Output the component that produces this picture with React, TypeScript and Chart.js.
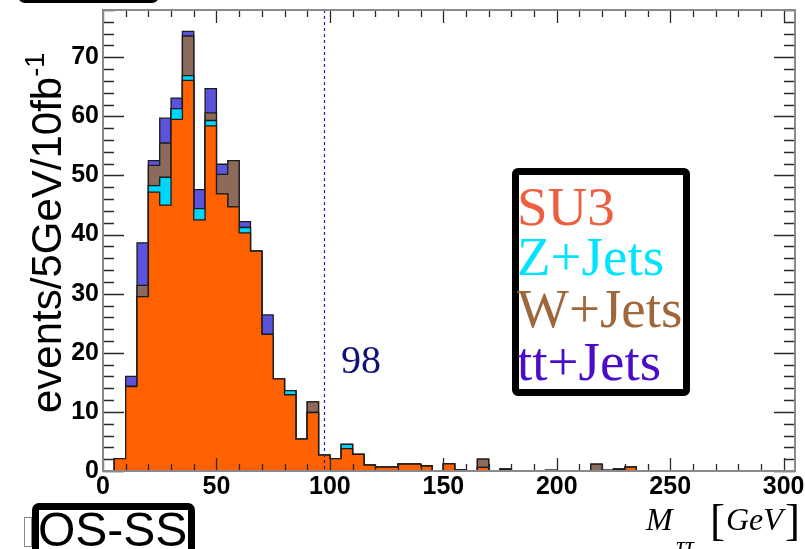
import React, { useEffect, useRef } from "react";
import { Chart, registerables } from "chart.js";

Chart.register(...registerables);

// ---- data (events per 5 GeV bin, bin i covers [5i, 5i+5) GeV) ----
const binWidth = 5;
const su3 = [
  0, 2.1, 14.3, 29.5, 47.2, 45.0, 59.5, 66.1, 42.5, 58.4,
  46.9, 44.7, 40.3, 37.2, 23.1, 15.6, 12.9, 5.4, 9.9, 2.7,
  2.1, 3.8, 2.8, 1.0, 0.65, 0.65, 1.15, 1.15, 0.85, 0,
  1.2, 0.2, 0, 0.6, 0, 0.3, 0, 0, 0, 0.12,
  0, 0, 0, 0, 0.12, 0.3, 0.65,
];
const zJets = [
  0, 0, 0, 0, 1.1, 4.7, 1.8, 0.8, 1.9, 0.9,
  0, 0, 0.9, 0, 0, 0, 0.7, 0, 0, 0,
  0, 0.7, 0, 0, 0, 0, 0, 0, 0, 0,
  0, 0, 0, 0, 0, 0, 0, 0, 0, 0,
  0, 0, 0, 0, 0, 0, 0,
];
const wJets = [
  0, 0, 0, 1.9, 3.4, 5.8, 0, 6.7, 0, 1.3,
  3.3, 7.8, 0, 0, 0, 0, 0, 0, 1.8, 0,
  0, 0, 0, 0, 0, 0, 0, 0, 0, 0,
  0, 0, 0, 1.4, 0, 0, 0, 0, 0, 0,
  0, 0, 0, 1.15, 0, 0, 0,
];
const ttJets = [
  0, 0, 1.7, 7.2, 0.8, 4.2, 1.8, 0.8, 3.2, 4.1,
  1.7, 0, 1.0, 0, 3.3, 0, 0, 0, 0, 0,
  0, 0, 0, 0, 0, 0, 0, 0, 0, 0,
  0, 0, 0, 0, 0, 0, 0, 0, 0, 0,
  0, 0, 0, 0, 0, 0, 0,
];
const seriesNames = ["SU3", "Z+Jets", "W+Jets", "tt+Jets"];
const xTicks = [0, 50, 100, 150, 200, 250, 300];
const yTicks = [0, 10, 20, 30, 40, 50, 60, 70];
const xMin = 0;
const xMax = 305;
const yMin = 0;
const yMax = 78;
const cutValue = 98;

const fillColors = ["#ff6000", "#00d6fa", "#8c6b5c", "#5b53dc"];
const legendColors = ["#ec6040", "#00e4ff", "#9e683c", "#4a0cc6"];
const outline = "#1c1c1c";

function stepPoints(vals: number[]) {
  const pts: { x: number; y: number }[] = [{ x: 0, y: 0 }];
  vals.forEach((v, i) => {
    pts.push({ x: i * binWidth, y: v });
    pts.push({ x: (i + 1) * binWidth, y: v });
  });
  pts.push({ x: vals.length * binWidth, y: 0 });
  return pts;
}

const framePlugin = {
  id: "rootFrame",
  afterDraw(chart: any) {
    const { ctx, chartArea, scales } = chart;
    const xs = scales.x;
    const ys = scales.y;
    const { left, right, top, bottom } = chartArea;
    ctx.save();
    // dashed cut line
    const cx = Math.round(xs.getPixelForValue(cutValue)) - 0.5;
    ctx.strokeStyle = "#1c1cb4";
    ctx.lineWidth = 1.2;
    ctx.setLineDash([3, 3]);
    ctx.beginPath();
    ctx.moveTo(cx, top);
    ctx.lineTo(cx, bottom);
    ctx.stroke();
    ctx.setLineDash([]);
    // ticks
    ctx.strokeStyle = "#2a2a2a";
    ctx.lineWidth = 1.3;
    ctx.beginPath();
    for (let v = yMin; v <= yMax; v += 2) {
      const y = Math.round(ys.getPixelForValue(v)) + 0.5;
      const len = v % 10 === 0 ? 21 : 11;
      ctx.moveTo(left, y);
      ctx.lineTo(left + len, y);
      ctx.moveTo(right, y);
      ctx.lineTo(right - len, y);
    }
    for (let v = xMin; v <= xMax; v += 10) {
      const x = Math.round(xs.getPixelForValue(v)) + 0.5;
      const len = v % 50 === 0 ? 13 : 7;
      ctx.moveTo(x, bottom);
      ctx.lineTo(x, bottom - len);
      ctx.moveTo(x, top);
      ctx.lineTo(x, top + len);
    }
    ctx.stroke();
    // frame
    ctx.strokeStyle = "#8a8a8a";
    ctx.lineWidth = 2;
    ctx.strokeRect(left, top, right - left, bottom - top);
    ctx.restore();
  },
};

const tickFont = {
  family: "'Liberation Sans', Arial, Helvetica, sans-serif",
  size: 25,
  weight: "bold" as const,
};

export default function App() {
  const canvasRef = useRef<HTMLCanvasElement | null>(null);

  useEffect(() => {
    const canvas = canvasRef.current;
    if (!canvas) return;
    const cum1 = su3.slice();
    const cum2 = cum1.map((v, i) => v + zJets[i]);
    const cum3 = cum2.map((v, i) => v + wJets[i]);
    const cum4 = cum3.map((v, i) => v + ttJets[i]);
    const layers = [cum1, cum2, cum3, cum4];

    const datasets = layers.map((vals, k) => ({
      label: seriesNames[k],
      data: stepPoints(vals),
      fill: "origin",
      backgroundColor: fillColors[k],
      borderColor: outline,
      borderWidth: 1.3,
      pointRadius: 0,
      pointHoverRadius: 0,
      tension: 0,
      segment: {
        borderColor: (c: any) =>
          c.p0.parsed.y === 0 && c.p1.parsed.y === 0 ? "rgba(0,0,0,0)" : outline,
      },
    }));

    const chart = new Chart(canvas, {
      type: "line",
      data: { datasets } as any,
      options: {
        animation: false,
        responsive: false,
        devicePixelRatio: 1,
        events: [],
        layout: { padding: { top: 10, right: 10, left: 0, bottom: 0 } },
        plugins: {
          legend: { display: false },
          tooltip: { enabled: false },
          title: { display: false },
        },
        scales: {
          x: {
            type: "linear",
            min: xMin,
            max: xMax,
            grid: { display: false, drawTicks: false },
            border: { display: false },
            ticks: {
              font: tickFont,
              color: "#000",
              padding: 1,
              maxRotation: 0,
              autoSkip: false,
            },
            afterBuildTicks: (s: any) => {
              s.ticks = xTicks.map((v) => ({ value: v }));
            },
            afterFit: (s: any) => {
              s.height = 78;
              s.paddingLeft = 0;
              s.paddingRight = 0;
            },
          },
          y: {
            type: "linear",
            min: yMin,
            max: yMax,
            grid: { display: false, drawTicks: false },
            border: { display: false },
            ticks: {
              font: tickFont,
              color: "#000",
              padding: 4,
              autoSkip: false,
            },
            afterBuildTicks: (s: any) => {
              s.ticks = yTicks.map((v) => ({ value: v }));
            },
            afterFit: (s: any) => {
              s.width = 103;
              s.paddingTop = 0;
              s.paddingBottom = 0;
            },
          },
        },
      } as any,
      plugins: [framePlugin],
    });
    return () => chart.destroy();
  }, []);

  const serif = "'Liberation Serif', 'Times New Roman', serif";
  const sans = "'Liberation Sans', Arial, Helvetica, sans-serif";
  const legendTops = [180, 230, 282, 335];

  return (
    <div
      style={{
        position: "fixed",
        left: 0,
        top: 0,
        width: 805,
        height: 549,
        overflow: "hidden",
        background: "#fff",
      }}
    >
      <canvas
        ref={canvasRef}
        width={805}
        height={549}
        style={{ position: "absolute", left: 0, top: 0, width: 805, height: 549 }}
      />
      {/* cut-off title box at top left */}
      <div
        style={{
          position: "absolute",
          left: 18,
          top: -50,
          width: 141,
          height: 53,
          border: "4px solid #000",
          borderRadius: 7,
          boxSizing: "border-box",
          background: "#fff",
        }}
      />
      {/* y axis title */}
      <div
        style={{
          position: "absolute",
          left: 26,
          top: 413,
          transformOrigin: "0 0",
          transform: "rotate(-90deg)",
          whiteSpace: "nowrap",
          fontFamily: sans,
          fontSize: 42,
          lineHeight: "42px",
          color: "#000",
        }}
      >
        events/5GeV/10fb
        <span style={{ fontSize: 27, position: "relative", top: -17 }}>-1</span>
      </div>
      {/* legend */}
      <div
        style={{
          position: "absolute",
          left: 512,
          top: 168,
          width: 178,
          height: 228,
          border: "7px solid #000",
          borderRadius: 6,
          boxSizing: "border-box",
          background: "#fff",
        }}
      />
      {seriesNames.map((n, k) => (
        <div
          key={n}
          style={{
            position: "absolute",
            left: 517,
            top: legendTops[k],
            fontFamily: serif,
            fontSize: 55,
            lineHeight: "54px",
            whiteSpace: "nowrap",
            color: legendColors[k],
          }}
        >
          {n}
        </div>
      ))}
      {/* cut value label */}
      <div
        style={{
          position: "absolute",
          left: 341,
          top: 340,
          fontFamily: serif,
          fontSize: 40,
          lineHeight: "40px",
          color: "#10107a",
        }}
      >
        {cutValue}
      </div>
      {/* OS-SS box */}
      <div
        style={{
          position: "absolute",
          left: 24,
          top: 517,
          width: 8,
          height: 30,
          border: "1px solid #888",
          boxSizing: "border-box",
          background: "#fff",
        }}
      />
      <div
        style={{
          position: "absolute",
          left: 32,
          top: 503,
          width: 163,
          height: 70,
          border: "7px solid #000",
          borderRadius: 7,
          boxSizing: "border-box",
          background: "#fff",
        }}
      />
      <div
        style={{
          position: "absolute",
          left: 38,
          top: 506,
          fontFamily: sans,
          fontSize: 48,
          lineHeight: "48px",
          whiteSpace: "nowrap",
          color: "#000",
        }}
      >
        OS-SS
      </div>
      {/* x axis title */}
      <div
        style={{
          position: "absolute",
          left: 646,
          top: 503,
          fontFamily: serif,
          fontStyle: "italic",
          fontSize: 32,
          lineHeight: "32px",
          color: "#000",
        }}
      >
        M
      </div>
      <div
        style={{
          position: "absolute",
          left: 676,
          top: 533,
          fontFamily: serif,
          fontStyle: "italic",
          fontSize: 25,
          lineHeight: "25px",
          color: "#000",
        }}
      >
        ττ
      </div>
      <div
        style={{
          position: "absolute",
          left: 710,
          top: 498,
          fontFamily: serif,
          fontSize: 45,
          lineHeight: "45px",
          color: "#000",
        }}
      >
        [
      </div>
      <div
        style={{
          position: "absolute",
          left: 726,
          top: 503,
          fontFamily: serif,
          fontStyle: "italic",
          fontSize: 32,
          lineHeight: "32px",
          color: "#000",
        }}
      >
        GeV
      </div>
      <div
        style={{
          position: "absolute",
          left: 785,
          top: 498,
          fontFamily: serif,
          fontSize: 45,
          lineHeight: "45px",
          color: "#000",
        }}
      >
        ]
      </div>
    </div>
  );
}
